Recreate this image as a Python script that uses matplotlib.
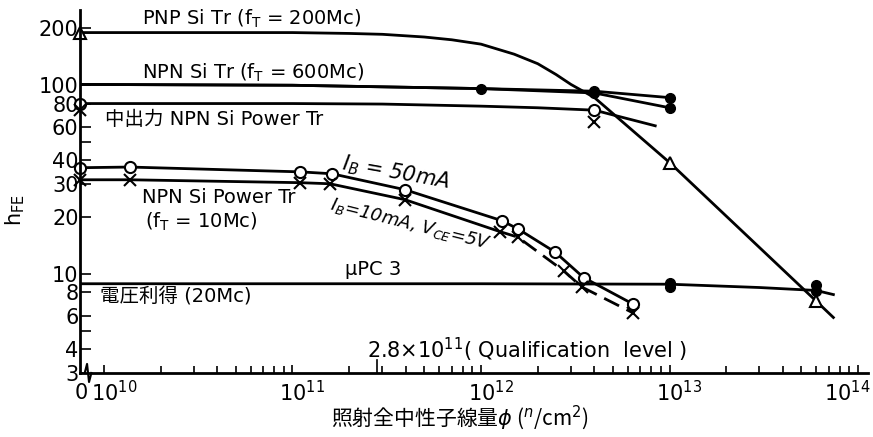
import matplotlib
matplotlib.use("Agg")
import matplotlib.pyplot as plt
from matplotlib.transforms import blended_transform_factory

plt.rcParams['font.family'] = ['DejaVu Sans', 'Noto Sans CJK JP']
plt.rcParams['mathtext.fontset'] = 'dejavusans'

# "0" fluence is drawn at the broken left end of the log axis
X0 = 7.46e9

# PNP Si Tr (fT=200Mc)
pnp_x = [X0, 1e11, 2e11, 3e11, 5e11, 7e11, 1e12, 1.5e12, 2e12, 2.5e12, 3e12, 4e12, 1e13, 6e13, 7.4e13]
pnp_y = [190, 190, 188, 186, 180, 174, 165, 146, 130, 114, 101, 86, 39, 7.2, 5.9]
pnp_mx = [X0, 1e13, 6e13]
pnp_my = [190, 39, 7.2]

# NPN Si Tr (fT=600Mc), two samples
npn_x = [X0, 1e11, 1e12, 4e12, 1e13]
npn_y1 = [101, 100, 96, 93, 86]
npn_y2 = [101, 100, 96, 91, 76]
npn_mx = [1e12, 4e12, 4e12, 1e13, 1e13]
npn_my = [96, 93, 91, 86, 76]

# 中出力 NPN Si Power Tr
mid_x = [X0, 1e11, 3e11, 1e12, 2e12, 4e12, 8.4e12]
mid_y = [80, 80, 79.5, 77.5, 76, 73.8, 61]
mid_cx = [X0, 4e12]
mid_cy = [80, 73.8]
mid_xx = [X0, 4e12]
mid_xy = [74, 64]

# NPN Si Power Tr (fT=10Mc), IB=50mA (circles)
p50_x = [X0, 1.37e10, 1.1e11, 1.62e11, 3.95e11, 1.29e12, 1.58e12, 2.47e12, 3.5e12, 6.4e12]
p50_y = [36.6, 36.9, 34.8, 34.0, 28.0, 19.2, 17.3, 13.1, 9.6, 6.95]

# IB=10mA, VCE=5V (crosses)
p10_x = [X0, 1.37e10, 1.1e11, 1.58e11, 3.95e11, 1.26e12, 1.57e12, 2.75e12, 3.43e12, 6.4e12]
p10_y = [31.6, 31.6, 30.5, 30.1, 24.8, 16.8, 15.7, 10.4, 8.55, 6.24]

# μPC3 voltage gain (20Mc)
upc_x = [X0, 1e12, 1e13, 3e13, 6e13, 7.4e13]
upc_y = [8.9, 8.9, 8.85, 8.5, 8.2, 7.8]
upc_mx = [1e13, 1e13, 6e13, 6e13]
upc_my = [9.0, 8.6, 8.75, 8.15]

x_ticks = [1e10, 1e11, 1e12, 1e13, 1e14]
x_labels = ['$10^{10}$', '$10^{11}$', '$10^{12}$', '$10^{13}$', '$10^{14}$']
y_ticks = [3, 4, 6, 8, 10, 20, 30, 40, 60, 80, 100, 200]
y_minor = [5, 50]
qual_x = 2.8e11

fig = plt.figure(figsize=(8.73, 4.37), dpi=100)
ax = fig.add_axes([0.0916, 0.1465, 0.9027, 0.8305])
ax.set_xscale('log')
ax.set_yscale('log')
ax.set_xlim(X0, 10 ** 14.053)
ax.set_ylim(3, 250)

k = 'black'
lw = 2.0
ax.plot(pnp_x, pnp_y, color=k, lw=lw)
ax.plot(pnp_mx, pnp_my, ls='none', marker='^', ms=8, mfc='white', mec=k, mew=1.5, clip_on=False)

ax.plot(npn_x, npn_y1, color=k, lw=lw)
ax.plot(npn_x, npn_y2, color=k, lw=lw)
ax.plot(npn_mx, npn_my, ls='none', marker='o', ms=7, color=k)

ax.plot(mid_x, mid_y, color=k, lw=lw)
ax.plot(mid_cx, mid_cy, ls='none', marker='o', ms=8, mfc='white', mec=k, mew=1.5, clip_on=False)
ax.plot(mid_xx, mid_xy, ls='none', marker='x', ms=8, color=k, mew=1.5, clip_on=False)

ax.plot(p50_x, p50_y, color=k, lw=lw)
ax.plot(p50_x, p50_y, ls='none', marker='o', ms=8, mfc='white', mec=k, mew=1.5, clip_on=False)
ax.plot(p10_x[:6], p10_y[:6], color=k, lw=lw)
ax.plot(p10_x[5:], p10_y[5:], color=k, lw=lw, dashes=(6, 3))
ax.plot(p10_x, p10_y, ls='none', marker='x', ms=8, color=k, mew=1.5, clip_on=False)

ax.plot(upc_x, upc_y, color=k, lw=lw)
ax.plot(upc_mx, upc_my, ls='none', marker='o', ms=7, color=k)

fs = 14
ax.text(1.6e10, 225, 'PNP Si Tr (f$_\\mathrm{T}$ = 200Mc)', fontsize=fs, va='center')
ax.text(1.6e10, 117, 'NPN Si Tr (f$_\\mathrm{T}$ = 600Mc)', fontsize=fs, va='center')
ax.text(1.01e10, 66, '中出力 NPN Si Power Tr', fontsize=fs, va='center')
ax.text(1.83e11, 38.8, '$I_B$ = 50mA', fontsize=15, style='italic', va='center',
        rotation=-10, rotation_mode='anchor')
ax.text(1.58e11, 23.4, '$I_B$=10mA, $V_{CE}$=5V', fontsize=13, style='italic', va='center',
        rotation=-14, rotation_mode='anchor')
ax.text(1.6e10, 25.4, 'NPN Si Power Tr', fontsize=fs, va='center')
ax.text(1.65e10, 19.0, '(f$_\\mathrm{T}$ = 10Mc)', fontsize=fs, va='center')
ax.text(1.9e11, 10.6, 'μPC 3', fontsize=fs, va='center')
ax.text(9.5e9, 7.57, '電圧利得 (20Mc)', fontsize=fs, va='center')
ax.text(2.5e11, 3.98, '2.8×10$^{11}$( Qualification  level )', fontsize=15, va='center')

for s in ['top', 'right']:
    ax.spines[s].set_visible(False)
for s in ['left', 'bottom']:
    ax.spines[s].set_linewidth(2)

# x tick labels: "10" centred on the tick, exponent to the right
ax.set_xticks(x_ticks)
ax.set_xticklabels([])
minor = [m * 10 ** d for d in range(10, 14) for m in range(2, 10)]
ax.set_xticks(minor, minor=True)
bt = blended_transform_factory(ax.transData, ax.transAxes)
ax.annotate('0', xy=(X0, 0), xycoords=bt, xytext=(1, -7), textcoords='offset points',
            ha='center', va='top', fontsize=15)
for xv, lab in zip(x_ticks, x_labels):
    if xv < 1e14:
        ax.annotate(lab, xy=(xv, 0), xycoords=bt, xytext=(-9.5, -5), textcoords='offset points',
                    ha='left', va='top', fontsize=15)
    else:
        ax.annotate(lab, xy=(xv, 0), xycoords=bt, xytext=(9, -5), textcoords='offset points',
                    ha='right', va='top', fontsize=15)

ax.set_yticks(y_ticks)
ax.set_yticklabels([str(v) for v in y_ticks], fontsize=15)
ax.set_yticks(y_minor, minor=True)
ax.tick_params(axis='both', which='both', direction='in', width=1.2, color=k)
ax.tick_params(axis='x', which='major', length=6)
ax.tick_params(axis='x', which='minor', length=5, labelbottom=False)
ax.tick_params(axis='y', which='major', length=8, pad=1)
ax.tick_params(axis='y', which='minor', length=8, labelleft=False)

# qualification level tick
ax.plot([qual_x, qual_x], [0, 0.035], color=k, lw=1.2, transform=bt, clip_on=False)

# axis break near the origin
tb = ax.transAxes
ax.plot([0.008, 0.0135], [-0.004, -0.004], color='white', lw=4, transform=tb, clip_on=False)
ax.plot([0.006, 0.009, 0.0115, 0.0145], [0.0, 0.025, -0.025, 0.0], color=k, lw=1.5,
        transform=tb, clip_on=False)

fig.text(0.527, 0.045, '照射全中性子線量$\\phi$ ($^n$/cm$^2$)', fontsize=15, ha='center',
         va='center', family=['Noto Sans CJK JP', 'DejaVu Sans'])
fig.text(0.017, 0.52, 'h$_{\\mathrm{FE}}$', fontsize=15, rotation=90, va='center', ha='center')

fig.savefig('out.png', dpi=100)
